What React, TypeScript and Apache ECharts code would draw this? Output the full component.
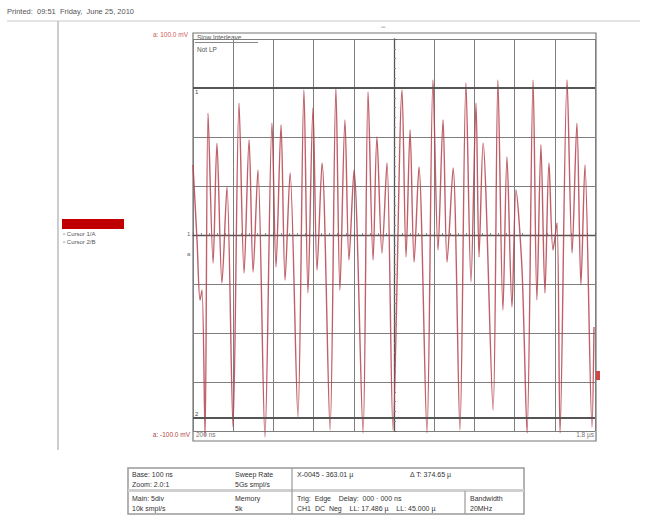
import React, { useEffect, useRef } from "react";
import * as echarts from "echarts";

// Time (ns) of each vertex of the trace (200 ns/div, 10 div)
const timeNs = [
  0, 20, 35, 45, 60, 75, 100, 119, 144, 169, 199, 229, 254, 279, 299, 323, 358,
  393, 413, 438, 458, 483, 522, 552, 572, 597, 617, 642, 682, 711, 731, 756, 776,
  801, 846, 871, 896, 915, 940, 965, 995, 1040, 1060, 1080, 1100, 1124, 1164,
  1194, 1219, 1244, 1264, 1294, 1328, 1358, 1383, 1408, 1423, 1443, 1493, 1517,
  1542, 1562, 1587, 1607, 1637, 1662, 1692, 1711, 1731, 1751, 1771, 1791, 1811,
  1826, 1861, 1886, 1910, 1930, 1950, 1985, 1995,
];
// Voltage (mV) at each vertex (25 mV/div, 8 div)
const voltageMv = [
  35.7, -2.6, -33.2, -28.1, -102.6, 62.2, -14.3, 46.9, -24.5, 24.5, -98.0, 67.3,
  -19.4, 48.5, -18.9, 33.2, -103.1, 57.1, -16.3, 56.1, -23.0, 31.6, -92.9, 74.0,
  -29.6, 64.8, -17.9, 36.7, -99.5, 75.0, -28.1, 58.7, -12.8, 33.2, -101.0, 73.0,
  -12.8, 50.0, -9.2, 36.7, -99.5, 74.0, -11.2, 53.6, -13.8, 34.7, -101.0, 79.1,
  -7.7, 58.7, -13.8, 34.2, -99.5, 77.6, -24.0, 67.3, -11.2, 46.9, -89.3, 79.1,
  -38.3, 39.8, -36.7, 23.0, -17.9, -101.0, 79.1, -33.2, 45.9, -29.6, 36.7, -7.7,
  6.1, -101.0, 79.1, -9.2, 57.1, -25.5, 35.7, -98.0, -46.9,
];
// Cursor levels (mV)
const cursorLevelsMv = [75, -93.4];

const FONT = "Liberation Sans, Arial, sans-serif";

function txt(x: number, y: number, text: string, opts: any = {}) {
  return {
    type: "text",
    x,
    y,
    silent: true,
    style: {
      text,
      fill: opts.fill || "#333",
      fontSize: opts.fontSize || 7,
      fontFamily: FONT,
      fontWeight: opts.fontWeight || "normal",
      align: opts.align || "left",
      verticalAlign: "middle",
    },
  };
}
function ln(x1: number, y1: number, x2: number, y2: number, stroke = "#999", lineWidth = 1) {
  return { type: "line", silent: true, shape: { x1, y1, x2, y2 }, style: { stroke, lineWidth } };
}

export default function App() {
  const ref = useRef<HTMLDivElement>(null);
  useEffect(() => {
    if (!ref.current) return;
    const chart = echarts.init(ref.current, null, { renderer: "svg" });
    const data = timeNs.map((t, i) => [t, voltageMv[i]]);
    chart.setOption({
      animation: false,
      backgroundColor: "#ffffff",
      grid: { left: 193, top: 39, width: 402, height: 392 },
      xAxis: {
        type: "value",
        min: 0,
        max: 2000,
        interval: 200,
        axisLine: { show: true, onZero: true, lineStyle: { color: "#555", width: 1.3 } },
        axisTick: { show: true, inside: true, length: 3, lineStyle: { color: "#666" } },
        minorTick: { show: true, splitNumber: 5, length: 2, lineStyle: { color: "#888" } },
        axisLabel: { show: false },
        splitLine: { show: true, lineStyle: { color: "#7e7e7e", width: 1 } },
      },
      yAxis: {
        type: "value",
        min: -100,
        max: 100,
        interval: 25,
        offset: -201,
        axisLine: { show: true, lineStyle: { color: "#555", width: 1.3 } },
        axisTick: { show: true, inside: true, length: 3, lineStyle: { color: "#666" } },
        minorTick: { show: true, splitNumber: 5, length: 2, lineStyle: { color: "#888" } },
        axisLabel: { show: false },
        splitLine: { show: true, lineStyle: { color: "#7e7e7e", width: 1 } },
      },
      series: [
        {
          type: "line",
          data,
          symbol: "none",
          clip: false,
          smooth: 0.3,
          lineStyle: { color: "#b5434d", width: 1.4, opacity: 0.85 },
          markLine: {
            silent: true,
            symbol: ["none", "none"],
            label: { show: false },
            lineStyle: { color: "#555", width: 2, type: "solid" },
            data: cursorLevelsMv.map((v) => ({ yAxis: v })),
          },
        },
      ],
      graphic: [
        txt(7, 11, "Printed:  09:51  Friday,  June 25, 2010", { fill: "#555", fontSize: 7.5 }),
        ln(7, 21, 640, 21, "#c8c8c8", 1),
        ln(58, 21, 58, 450, "#bdbdbd", 1.5),
        {
          type: "rect",
          silent: true,
          shape: { x: 193, y: 33, width: 403, height: 408 },
          style: { fill: "none", stroke: "#777", lineWidth: 1.2 },
        },
        txt(188, 34, "a: 100.0 mV", { fill: "#d05a5a", align: "right", fontSize: 6.5 }),
        txt(190, 434, "a: -100.0 mV", { fill: "#b04848", align: "right", fontSize: 6.5 }),
        txt(196, 434, "200 ns", { fill: "#777", fontSize: 6.5 }),
        txt(594, 434, "1.8 µs", { fill: "#777", align: "right", fontSize: 6.5 }),
        {
          type: "rect",
          silent: true,
          shape: { x: 194, y: 34, width: 64, height: 8 },
          style: { fill: "#ffffff", stroke: "none" },
        },
        txt(197, 37.5, "Slow Interleave", { fill: "#555", fontSize: 6.5 }),
        ln(195, 42.5, 258, 42.5, "#888", 1),
        txt(197, 49, "Not LP", { fill: "#555", fontSize: 6.5 }),
        txt(381, 27, "═", { fill: "#999", fontSize: 6 }),
        txt(195, 92, "1", { fill: "#444", fontSize: 6 }),
        txt(195, 414, "2", { fill: "#444", fontSize: 6 }),
        txt(187, 234, "1", { fill: "#666", fontSize: 6 }),
        txt(187, 254, "a", { fill: "#666", fontSize: 6 }),
        {
          type: "rect",
          silent: true,
          shape: { x: 62, y: 219, width: 62, height: 10 },
          style: { fill: "#c00000" },
        },
        txt(63, 234, "▫ Cursor 1/A", { fill: "#555", fontSize: 6 }),
        txt(63, 242, "▫ Cursor 2/B", { fill: "#555", fontSize: 6 }),
        {
          type: "rect",
          silent: true,
          shape: { x: 596, y: 371, width: 4, height: 9 },
          style: { fill: "#d04545" },
        },
        // bottom info table
        {
          type: "rect",
          silent: true,
          shape: { x: 128, y: 468, width: 396, height: 46 },
          style: { fill: "none", stroke: "#999", lineWidth: 1.5 },
        },
        {
          type: "rect",
          silent: true,
          shape: { x: 128, y: 489, width: 396, height: 3 },
          style: { fill: "#cfcfcf" },
        },
        ln(292, 468, 292, 514, "#999", 1.2),
        ln(465, 491, 465, 514, "#999", 1.2),
        txt(132, 474, "Base: 100 ns"),
        txt(132, 484, "Zoom: 2.0:1"),
        txt(235, 474, "Sweep Rate"),
        txt(235, 484, "5Gs smpl/s"),
        txt(297, 474, "X-0045 - 363.01 µ"),
        txt(410, 474, "Δ T: 374.65 µ"),
        txt(132, 498, "Main: 5div"),
        txt(132, 508, "10k smpl/s"),
        txt(235, 498, "Memory"),
        txt(235, 508, "5k"),
        txt(297, 498, "Trig:  Edge    Delay:  000 · 000 ns"),
        txt(297, 508, "CH1  DC  Neg    LL: 17.486 µ    LL: 45.000 µ"),
        txt(470, 498, "Bandwidth"),
        txt(470, 508, "20MHz"),
      ],
    });
    return () => chart.dispose();
  }, []);
  return (
    <div
      ref={ref}
      style={{ position: "absolute", left: 0, top: 0, width: 645, height: 521 }}
    />
  );
}
